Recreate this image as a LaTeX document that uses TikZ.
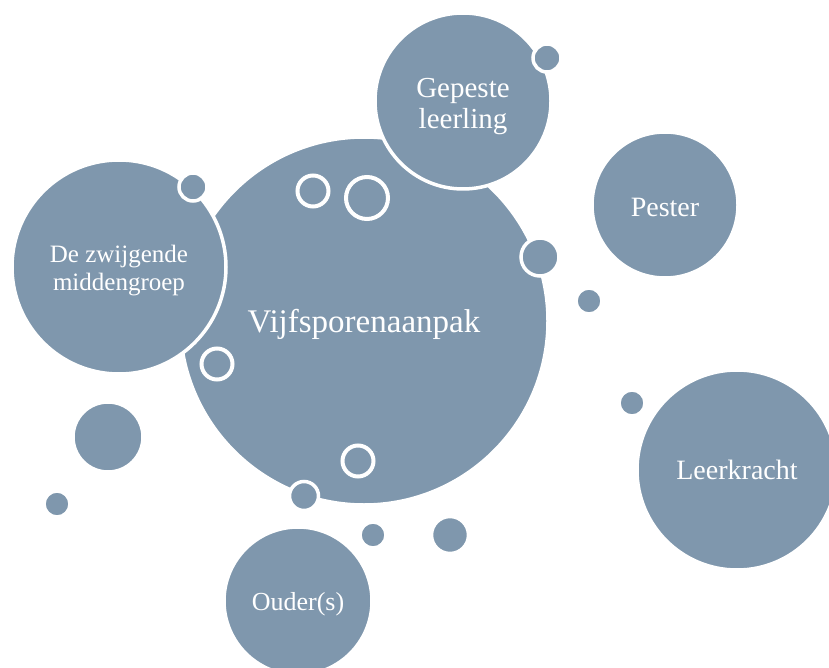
\documentclass[tikz,border=0pt]{standalone}
\usepackage{fontspec}
\setmainfont{Liberation Serif}
\definecolor{bubbleblue}{RGB}{127,151,173}
\tikzset{
  bubble/.style={circle, fill=bubbleblue, draw=white, line width=3.5pt, inner sep=0pt},
  ring/.style={circle, fill=bubbleblue, draw=white, line width=4pt, inner sep=0pt},
  bubbletext/.style={text=white, align=center, inner sep=0pt}
}
\begin{document}
\begin{tikzpicture}[x=1pt,y=-1pt]
\useasboundingbox (0,0) rectangle (829,668);
% large circles
\node[bubble, minimum size=368pt] (aanpak) at (364,321) {};
\node[bubble, minimum size=214pt] (zwijgend) at (119,267) {};
\node[bubble, minimum size=176pt] (gepest) at (463,101) {};
\node[bubble, minimum size=146pt] (pester) at (665,205) {};
\node[bubble, minimum size=200pt] (leerkracht) at (737,470) {};
\node[bubble, minimum size=148pt] (ouders) at (298,601) {};
% rings on the big circle
\node[ring, minimum size=31pt] (ringa) at (313,191) {};
\node[ring, minimum size=42pt] (ringb) at (367,198) {};
\node[ring, minimum size=31pt] (ringc) at (217,364) {};
\node[ring, minimum size=31pt] (ringd) at (358,461) {};
% small dots
\node[bubble, minimum size=28pt] (dota) at (547,58) {};
\node[bubble, minimum size=28pt] (dotb) at (193,187) {};
\node[bubble, minimum size=38pt] (dotc) at (540,257) {};
\node[bubble, minimum size=29pt] (dotd) at (304,496) {};
\node[bubble, minimum size=26pt] (dote) at (589,301) {};
\node[bubble, minimum size=26pt] (dotf) at (632,403) {};
\node[bubble, minimum size=70pt] (dotg) at (108,437) {};
\node[bubble, minimum size=26pt] (doth) at (57,504) {};
\node[bubble, minimum size=26pt] (doti) at (373,535) {};
\node[bubble, minimum size=37pt] (dotj) at (450,535) {};
% texts
\node[bubbletext, font=\fontsize{33}{36}\selectfont] (aanpaktext) at ([yshift=-3pt]aanpak.center) {Vijfsporenaanpak};
\node[bubbletext, font=\fontsize{25}{28}\selectfont] (zwijgendtext) at ([yshift=-4pt]zwijgend.center) {De zwijgende\\middengroep};
\node[bubbletext, font=\fontsize{29}{31}\selectfont] (gepesttext) at ([yshift=-6pt]gepest.center) {Gepeste\\leerling};
\node[bubbletext, font=\fontsize{28}{30}\selectfont] (pestertext) at ([yshift=-2pt]pester.center) {Pester};
\node[bubbletext, font=\fontsize{28}{30}\selectfont] (leerkrachttext) at (leerkracht.center) {Leerkracht};
\node[bubbletext, font=\fontsize{26}{28}\selectfont] (ouderstext) at ([yshift=-3pt]ouders.center) {Ouder(s)};
\end{tikzpicture}
\end{document}
